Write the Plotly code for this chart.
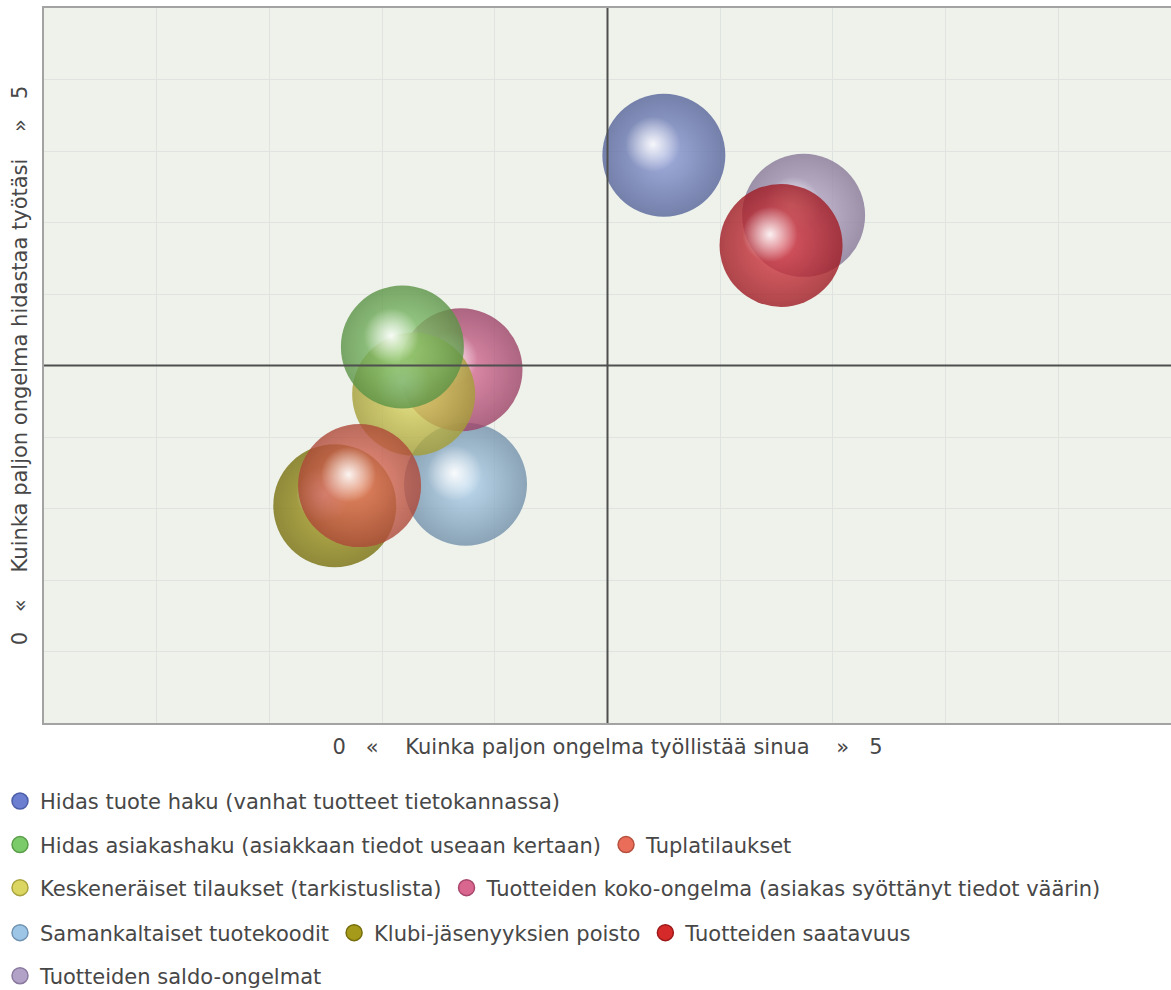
import plotly.graph_objects as go

# ---------------- data ----------------
names = [
    "Hidas tuote haku (vanhat tuotteet tietokannassa)",
    "Hidas asiakashaku (asiakkaan tiedot useaan kertaan)",
    "Tuplatilaukset",
    "Keskeneräiset tilaukset (tarkistuslista)",
    "Tuotteiden koko-ongelma (asiakas syöttänyt tiedot väärin)",
    "Samankaltaiset tuotekoodit",
    "Klubi-jäsenyyksien poisto",
    "Tuotteiden saatavuus",
    "Tuotteiden saldo-ongelmat",
]
x_vals = [2.75, 1.59, 1.40, 1.64, 1.85, 1.87, 1.29, 3.27, 3.37]
y_vals = [3.97, 2.63, 1.66, 2.30, 2.47, 1.67, 1.52, 3.34, 3.55]
sizes = [123, 123, 123, 123, 123, 123, 123, 123, 123]

# ---------------- styles ----------------
base_colors = ["#8d9bd8", "#94d67e", "#f07c66", "#e4de6a", "#e2769e",
               "#b2d4ef", "#b2a626", "#e2424a", "#c4b4d4"]
dark_colors = ["#56649a", "#5a9245", "#ad4838", "#a49d36", "#9c4266",
               "#7290aa", "#78700e", "#9e1a22", "#877898"]
legend_colors = ["#6b7ecf", "#7ccb6a", "#ea6d5a", "#dbd661", "#d9668f",
                 "#9dc5e6", "#a69a1a", "#d62a2a", "#b3a2c8"]
legend_lines = ["#4d5ea8", "#5a9e4a", "#b5503e", "#a9a33e", "#a8466c",
                "#7093b2", "#766d0c", "#9c1a1a", "#8a7aa0"]
legend_rows = ["legend", "legend2", "legend2", "legend3", "legend3",
               "legend4", "legend4", "legend4", "legend5"]
row_y = {"legend": 0.1905, "legend2": 0.1465, "legend3": 0.1030,
         "legend4": 0.0576, "legend5": 0.0141}

FONT = "DejaVu Sans, Verdana, sans-serif"
TXT = "#474747"
FS = 21
X_RANGE = [0, 5]
Y_RANGE = [0, 5]
W, H = 1171, 990
M = dict(l=44, r=0, t=8, b=267)
HL_OFFSET_PX = 11  # highlight shift towards upper-left (style)

plot_w = W - M["l"] - M["r"]
plot_h = H - M["t"] - M["b"]
px_x = (X_RANGE[1] - X_RANGE[0]) / plot_w
px_y = (Y_RANGE[1] - Y_RANGE[0]) / plot_h

fig = go.Figure()

# center cross lines
mid_x = sum(X_RANGE) / 2
mid_y = sum(Y_RANGE) / 2
fig.add_shape(type="line", xref="x", yref="paper", x0=mid_x, x1=mid_x, y0=0, y1=1,
              line=dict(color="#4f4f4f", width=2), layer="above")
fig.add_shape(type="line", xref="paper", yref="y", x0=0, x1=1, y0=mid_y, y1=mid_y,
              line=dict(color="#4f4f4f", width=2), layer="above")

# bubbles: drawn in reverse order so the first series sits on top
for i in reversed(range(len(names))):
    fig.add_trace(go.Scatter(
        x=[x_vals[i]], y=[y_vals[i]], mode="markers", name=names[i],
        showlegend=False, hoverinfo="name",
        marker=dict(size=sizes[i], color=dark_colors[i], opacity=0.8,
                    gradient=dict(type="radial", color=base_colors[i]),
                    line=dict(width=0)),
    ))
    fig.add_trace(go.Scatter(
        x=[x_vals[i] - HL_OFFSET_PX * px_x], y=[y_vals[i] + HL_OFFSET_PX * px_y],
        mode="markers", showlegend=False, hoverinfo="skip",
        marker=dict(size=sizes[i] * 0.45, color="rgba(255,255,255,0)",
                    gradient=dict(type="radial", color="rgba(255,255,255,0.92)"),
                    line=dict(width=0)),
    ))

# legend entries (flat circles)
for i in range(len(names)):
    fig.add_trace(go.Scatter(
        x=[None], y=[None], mode="markers", name=names[i],
        legend=legend_rows[i], showlegend=True,
        marker=dict(size=16, color=legend_colors[i],
                    line=dict(width=1.5, color=legend_lines[i])),
    ))

axis_common = dict(
    showticklabels=False, ticks="", showgrid=True, gridcolor="#dfe4e0",
    gridwidth=1, zeroline=False, showline=True, linecolor="#a3a3a3",
    linewidth=2, dtick=0.5, tick0=0, fixedrange=True,
)

fig.update_layout(
    width=W, height=H,
    margin=M,
    paper_bgcolor="white",
    plot_bgcolor="#eef2eb",
    font=dict(family=FONT, size=FS, color=TXT),
    xaxis=dict(range=X_RANGE, mirror=True,
               title=dict(text="0   «    Kuinka paljon ongelma työllistää sinua    »   5",
                          font=dict(family=FONT, size=FS, color=TXT), standoff=15),
               **axis_common),
    yaxis=dict(range=Y_RANGE, mirror=False,
               title=dict(text="0   «    Kuinka paljon ongelma hidastaa työtäsi    »   5",
                          font=dict(family=FONT, size=FS, color=TXT), standoff=9),
               **axis_common),
)

for key, yv in row_y.items():
    fig.update_layout({key: dict(
        orientation="h", xref="container", yref="container",
        x=0, y=yv, xanchor="left", yanchor="middle",
        font=dict(family=FONT, size=FS, color=TXT),
        bgcolor="rgba(0,0,0,0)", itemsizing="trace", traceorder="normal",
    )})

fig.write_html("out.html")
